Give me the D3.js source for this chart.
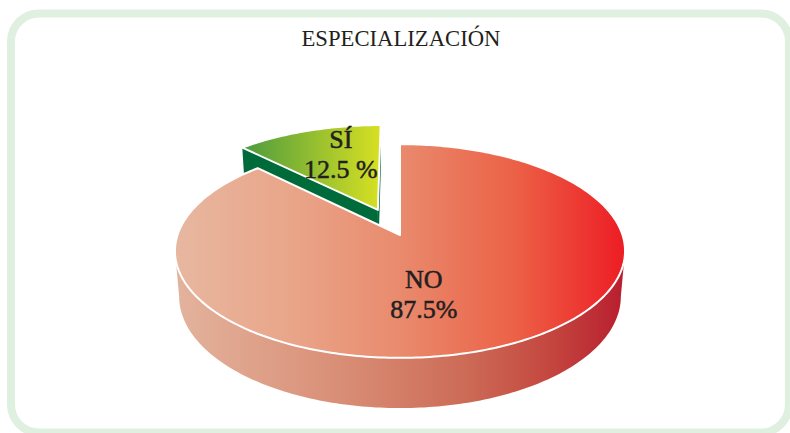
<!DOCTYPE html>
<html>
<head>
<meta charset="utf-8">
<script src="https://cdn.jsdelivr.net/npm/d3@7/dist/d3.min.js"></script>
<style>
  html, body { margin: 0; padding: 0; background: #ffffff; }
  svg { display: block; }
</style>
</head>
<body>
<svg id="chart" width="790" height="433"></svg>
<script>
// ---- data ----
const title = "ESPECIALIZACIÓN";
const categories = ["NO", "SÍ"];
const values = [87.5, 12.5];
const valueLabels = ["87.5%", "12.5 %"];

// ---- style / layout ----
const W = 790, H = 433;
const cx = 400, cy = 235;          // projected pie centre
const R = 222.5;                   // disk radius
const tilt = 28 * Math.PI / 180;   // camera tilt
const Dist = 1312;                 // perspective distance
const thick = 52;                  // pie thickness
const explode = [0, 60];           // per slice explosion
const topStops = [
  [["0", "#e7b7a0"], ["0.25", "#e9a68a"], ["0.5", "#e98a6d"], ["0.75", "#ec6247"], ["1", "#ed1c24"]],
  [["0", "#4c9a3f"], ["1", "#d7e022"]]
];
const sideStops = [
  [["0", "#e3b39d"], ["0.35", "#da9078"], ["0.65", "#cc6a56"], ["0.83", "#c4473f"], ["1", "#b81d2e"]],
  [["0", "#006b3a"], ["1", "#006b3a"]]
];
const gradRange = [[175, 626], [242, 380]];
const labelOffset = [[-22, 1], [0, -20]];
const lineGap = 30;

const svg = d3.select("#chart");
const defs = svg.append("defs");

// frame
svg.append("rect")
  .attr("x", 11).attr("y", 13.5)
  .attr("width", 778).attr("height", 419)
  .attr("rx", 28).attr("ry", 28)
  .attr("fill", "#ffffff")
  .attr("stroke", "#dfefe0")
  .attr("stroke-width", 8);

svg.append("text")
  .attr("x", 401).attr("y", 46)
  .attr("text-anchor", "middle")
  .attr("font-family", "'Liberation Serif', 'DejaVu Serif', serif")
  .attr("font-size", 23)
  .attr("textLength", 199)
  .attr("lengthAdjust", "spacingAndGlyphs")
  .attr("fill", "#231f20")
  .text(title);

// gradients
function makeGrad(id, stops, range) {
  const g = defs.append("linearGradient").attr("id", id)
    .attr("gradientUnits", "userSpaceOnUse")
    .attr("x1", range[0]).attr("x2", range[1]).attr("y1", 0).attr("y2", 0);
  stops.forEach(s => g.append("stop").attr("offset", s[0]).attr("stop-color", s[1]));
}
categories.forEach((c, i) => {
  makeGrad("top" + i, topStops[i], gradRange[i]);
  makeGrad("side" + i, sideStops[i], gradRange[i]);
});

// projection
const sinT = Math.sin(tilt), cosT = Math.cos(tilt);
function proj(X, Y, Z) {
  const yv = Y * cosT - Z * sinT;
  const zv = Z * cosT + Y * sinT;
  const s = Dist / (Dist - zv);
  return [cx + X * s, cy - yv * s];
}
function pt(a, r, Y, off) {
  return proj(off[0] + r * Math.sin(a), Y, off[1] - r * Math.cos(a));
}
function arcPts(a0, a1, Y, off) {
  const n = Math.max(2, Math.ceil(Math.abs(a1 - a0) / (Math.PI / 180)));
  const pts = [];
  for (let k = 0; k <= n; k++) pts.push(pt(a0 + (a1 - a0) * k / n, R, Y, off));
  return pts;
}
const line = d3.line().curve(d3.curveLinear);

const pie = d3.pie().sort(null).value(d => d)(values);
const slices = pie.map((p, i) => {
  const mid = (p.startAngle + p.endAngle) / 2;
  const off = [explode[i] * Math.sin(mid), -explode[i] * Math.cos(mid)];
  return { p, i, mid, off };
});

// silhouette angle of curved side
const Bq = R * cosT / Dist;
const sil0 = Math.acos(-Bq), sil1 = 2 * Math.PI - sil0;

// painter's order: far slice first
const order = slices.slice().sort((a, b) => Math.cos(b.mid) - Math.cos(a.mid));

order.forEach(s => {
  const { p, i, off } = s;
  const g = svg.append("g");
  const cen0 = proj(off[0], 0, off[1]);
  const cenB = proj(off[0], -thick, off[1]);
  // radial faces (visible ones)
  [p.startAngle, p.endAngle].forEach((a, k) => {
    const o = pt(a, R, 0, off);
    const ob = pt(a, R, -thick, off);
    const sign = k === 0 ? -1 : 1;
    const nx = sign * Math.cos(a), nz = sign * Math.sin(a);
    const mX = off[0] + 0.5 * R * Math.sin(a), mZ = off[1] - 0.5 * R * Math.cos(a);
    const camZ = Dist * cosT;
    const vis = nx * (0 - mX) + nz * (camZ - mZ);
    if (vis > 1) {
      g.append("path")
        .attr("d", line([cen0, o, ob, cenB]) + "Z")
        .attr("fill", `url(#side${i})`);
    }
  });
  // curved side
  const a0 = Math.max(p.startAngle, sil0), a1 = Math.min(p.endAngle, sil1);
  if (a1 > a0) {
    const topArc = arcPts(a0, a1, 0, off);
    const botArc = arcPts(a0, a1, -thick, off).reverse();
    g.append("path")
      .attr("d", line(topArc.concat(botArc)) + "Z")
      .attr("fill", `url(#side${i})`);
  }
  // top face
  const topPts = [cen0].concat(arcPts(p.startAngle, p.endAngle, 0, off));
  g.append("path")
    .attr("d", line(topPts) + "Z")
    .attr("fill", `url(#top${i})`)
    .attr("stroke", "#ffffff")
    .attr("stroke-width", 2)
    .attr("stroke-linejoin", "round");
});

// labels
slices.forEach(s => {
  const anchor = pt(s.mid, R * 0.5, 0, s.off);
  const x = anchor[0] + labelOffset[s.i][0];
  const y = anchor[1] + labelOffset[s.i][1];
  const t = svg.append("text")
    .attr("text-anchor", "middle")
    .attr("font-family", "'Liberation Serif', 'DejaVu Serif', serif")
    .attr("font-size", 26)
    .attr("fill", "#231f20")
    .attr("stroke", "#231f20")
    .attr("stroke-width", 0.5);
  t.append("tspan").attr("x", x).attr("y", y).text(categories[s.i]);
  t.append("tspan").attr("x", x).attr("y", y + lineGap).text(valueLabels[s.i]);
});
</script>
</body>
</html>
